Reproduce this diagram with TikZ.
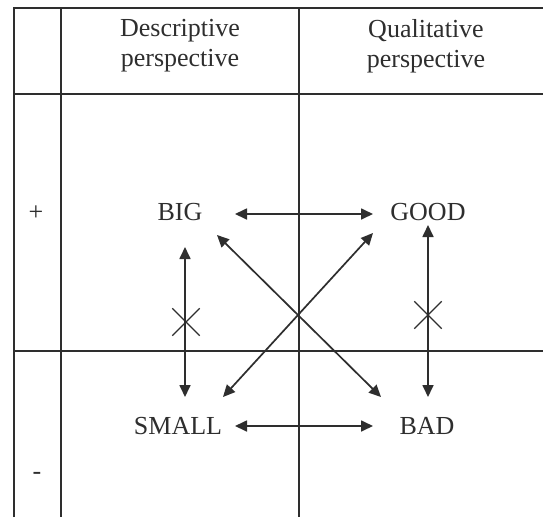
\documentclass[tikz,border=0pt]{standalone}
\usepackage{fontspec}
\setmainfont{Liberation Serif}
\usetikzlibrary{arrows.meta,shapes.misc}
\begin{document}
\begin{tikzpicture}[x=1pt,y=-1pt,
  ink/.style={color=black!82},
  grid/.style={ink,line width=2pt},
  outer/.style={ink,line width=2.8pt},
  lbl/.style={ink,inner sep=0pt,font=\fontsize{26}{30}\selectfont},
  head/.style={lbl,align=center},
  arr/.style={ink,line width=1.7pt,{Triangle[length=12pt,width=11pt]}-{Triangle[length=12pt,width=11pt]}},
  nomark/.style={ink,draw,cross out,line width=1.3pt,minimum size=26pt,inner sep=0pt}]
\useasboundingbox (0,0) rectangle (543,517);
\fill[white] (0,0) rectangle (543,517);
% table
\coordinate (tl) at (14,8);
\draw[outer] (14,517) -- (tl) -- (543,8);
\draw[grid] (14,93.5) -- (543,93.5);
\draw[grid] (14,350.5) -- (543,350.5);
\draw[grid] (60.5,8) -- (60.5,517);
\draw[grid] (299,8) -- (299,517);
% headers
\node[head] (hd) at (180,46) {Descriptive\\perspective};
\node[head] (hq) at (426,46) {Qualitative\\perspective};
\node[lbl] (plus) at (36,213) {+};
\node[lbl] (minus) at (37,476) {-};
% nodes
\node[lbl] (BIG) at (180,212) {BIG};
\node[lbl] (GOOD) at (428,212) {GOOD};
\node[lbl] (SMALL) at (178,426) {SMALL};
\node[lbl] (BAD) at (427,426) {BAD};
% arrows
\draw[arr] ([shift={(55,2)}]BIG.center) -- ([shift={(-55,2)}]GOOD.center);
\draw[arr] ([shift={(57,0)}]SMALL.center) -- ([shift={(-54,0)}]BAD.center);
\draw[arr] ([shift={(5,35)}]BIG.center) -- ([shift={(7,-29)}]SMALL.center);
\draw[arr] ([shift={(0,13)}]GOOD.center) -- ([shift={(1,-29)}]BAD.center);
\draw[arr] ([shift={(37,23)}]BIG.center) -- ([shift={(-46,-29)}]BAD.center);
\draw[arr] ([shift={(-55,21)}]GOOD.center) -- ([shift={(45,-29)}]SMALL.center);
% negation marks
\node[nomark] (xl) at (186,322) {};
\node[nomark] (xr) at (428,315) {};
\end{tikzpicture}
\end{document}
